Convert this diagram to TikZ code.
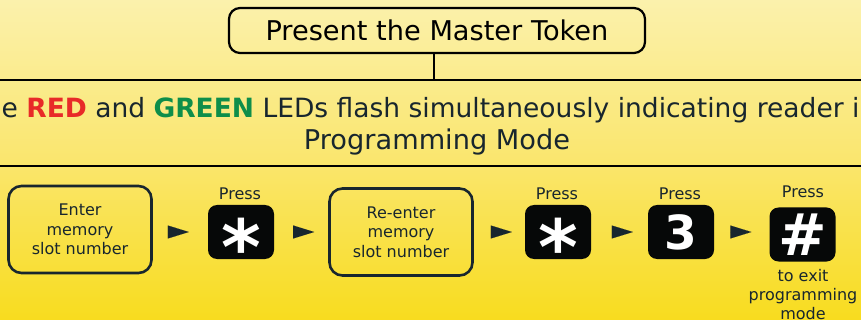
\documentclass[tikz,border=0pt]{standalone}
\usepackage{fontspec}
\setmainfont{DejaVu Sans}
\usetikzlibrary{arrows.meta}
\definecolor{ink}{RGB}{24,38,46}
\definecolor{ledred}{RGB}{232,42,40}
\definecolor{ledgreen}{RGB}{14,142,74}
\definecolor{bgtop}{RGB}{251,241,172}
\definecolor{bgmid}{RGB}{250,230,110}
\definecolor{bgbot}{RGB}{248,220,30}
\definecolor{keyblack}{RGB}{6,8,8}
\begin{document}
\begin{tikzpicture}[x=1pt,y=-1pt,
  topbox/.style={draw=black, line width=2.2pt, rounded corners=11pt, minimum width=416pt, minimum height=45pt, inner sep=0pt, font=\fontsize{27.2}{30}\selectfont, text=black},
  stepbox/.style={draw=ink, line width=2.6pt, rounded corners=13pt, minimum width=143pt, minimum height=87pt, inner sep=0pt, align=center, font=\fontsize{16}{19.5}\selectfont, text=ink},
  keybox/.style={fill=keyblack, rounded corners=9pt, minimum width=66pt, minimum height=54pt, inner sep=0pt},
  keylabel/.style={text=white, inner sep=0pt, anchor=base},
  smalltext/.style={font=\fontsize{16}{19.5}\selectfont, text=ink, align=center, inner sep=0pt},
  bandline/.style={draw=black, line width=2.2pt},
  conn/.style={draw=ink, line width=0.01pt, -{Triangle[length=21pt,width=13pt]}}
]
\useasboundingbox (0,0) rectangle (861,320);
\shade[top color=bgtop, bottom color=bgbot, middle color=bgmid] (0,0) rectangle (861,320);

% top
\node[topbox] (master) at (437,30.5) {Present the Master Token};
\coordinate (bandtop) at (434,80);
\draw[line width=1.8pt] ([xshift=-3pt]master.south) -- (bandtop);

% band
\draw[bandline] (0,80) -- (861,80);
\draw[bandline] (0,166) -- (861,166);
\node[text=ink, inner sep=0pt, anchor=base, font=\fontsize{26.5}{30}\selectfont] (line1) at (430.5,118) {e \textbf{\textcolor{ledred}{RED}} and \textbf{\textcolor{ledgreen}{GREEN}} LEDs flash simultaneously indicating reader i};
\node[text=ink, inner sep=0pt, anchor=base, font=\fontsize{27.2}{30}\selectfont] (line2) at (437,150) {Programming Mode};

% bottom row
\node[stepbox] (b1) at (80,229.5) {Enter\\memory\\slot number};
\node[keybox] (k1) at (241,232) {};
\node[stepbox] (b2) at (401,232) {Re-enter\\memory\\slot number};
\node[keybox] (k2) at (558,232) {};
\node[keybox] (k3) at (681,232) {};
\node[keybox] (k4) at (802.5,234.5) {};

\node[keylabel, font=\bfseries\fontsize{76}{76}\selectfont] (k1t) at ([yshift=-42pt]k1.center) {*};
\node[keylabel, font=\bfseries\fontsize{76}{76}\selectfont] (k2t) at ([yshift=-42pt]k2.center) {*};
\node[keylabel, font=\bfseries\fontsize{47}{47}\selectfont] (k3t) at ([yshift=-17pt]k3.center) {3};
\node[keylabel, font=\bfseries\fontsize{58}{58}\selectfont] (k4t) at ([yshift=-21pt]k4.center) {\#};

\node[smalltext] (p1) at (240,194) {Press};
\node[smalltext] (p2) at (557,194) {Press};
\node[smalltext] (p3) at (680,194) {Press};
\node[smalltext] (p4) at (803,192) {Press};
\node[smalltext, anchor=north, font=\fontsize{16}{19}\selectfont] (exit) at (803,269) {to exit\\programming\\mode};

% connectors
\draw[conn, shorten <=16pt, shorten >=19pt] (b1.east |- k1.west) -- (k1.west);
\draw[conn, shorten <=20pt, shorten >=14pt] (k1.east) -- (b2.west);
\draw[conn, shorten <=18pt, shorten >=13pt] (b2.east) -- (k2.west);
\draw[conn, shorten <=21pt, shorten >=15pt] (k2.east) -- (k3.west);
\draw[conn, shorten <=16pt, shorten >=18pt] (k3.east) -- (k4.west |- k3.east);
\end{tikzpicture}
\end{document}
